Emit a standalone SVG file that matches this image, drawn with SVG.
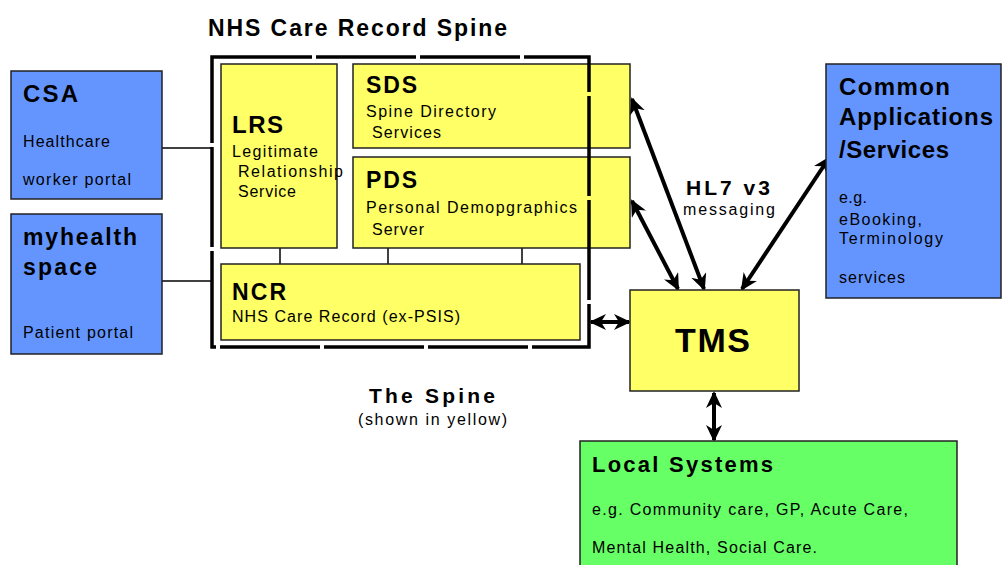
<svg xmlns="http://www.w3.org/2000/svg" width="1003" height="565" viewBox="0 0 1003 565">
<style>
.box{stroke:#222;stroke-width:1.5}
.blue{fill:#6495FF}
.yel{fill:#FFFF66}
.grn{fill:#66FF66}
text{font-family:"Liberation Sans",Arial,sans-serif;fill:#000}
.h{font-weight:bold;font-size:23px}
.s{font-size:16px}
.line{stroke:#000;stroke-width:1.5;fill:none}
.arr{stroke:#000;stroke-width:4;fill:none;marker-start:url(#ah);marker-end:url(#ah)}
</style>
<defs>
<marker id="ah" markerUnits="userSpaceOnUse" markerWidth="18" markerHeight="16" viewBox="0 0 18 16" refX="15" refY="8" orient="auto-start-reverse">
<path d="M0,0 L17,8 L0,16 L5,8 z" fill="#000"/>
</marker>
</defs>
<rect width="1003" height="565" fill="#fff"/>

<text class="h" x="208" y="36" textLength="299">NHS Care Record Spine</text>

<g id="connectors">
<line class="line" x1="162" y1="148" x2="212" y2="148"/>
<line class="line" x1="162" y1="281" x2="212" y2="281"/>
<line class="line" x1="280" y1="248" x2="280" y2="264"/>
<line class="line" x1="388" y1="248" x2="388" y2="264"/>
<line class="line" x1="522" y1="248" x2="522" y2="264"/>
<line class="arr" x1="632" y1="99" x2="704" y2="289"/>
<line class="arr" x1="632" y1="201" x2="678" y2="289"/>
<line class="arr" x1="829" y1="158" x2="742" y2="289"/>
<line class="arr" x1="591" y1="322" x2="629" y2="322"/>
<line class="arr" x1="714" y1="393" x2="714" y2="440"/>
</g>

<g id="csa">
<rect class="box blue" x="11" y="71" width="151" height="128"/>
<text class="h" x="23" y="102" textLength="55" style="font-size:24px">CSA</text>
<text class="s" x="23" y="147" textLength="87">Healthcare</text>
<text class="s" x="23" y="185" textLength="108">worker portal</text>
</g>

<g id="myhealth">
<rect class="box blue" x="11" y="214" width="151" height="140"/>
<text class="h" x="23" y="245" textLength="114">myhealth</text>
<text class="h" x="23" y="275" textLength="74">space</text>
<text class="s" x="23" y="338" textLength="110">Patient portal</text>
</g>

<g id="lrs">
<rect class="box yel" x="221" y="64" width="116" height="184"/>
<text class="h" x="232" y="133" textLength="51" style="font-size:24px">LRS</text>
<text class="s" x="232" y="157" textLength="86">Legitimate</text>
<text class="s" x="238" y="177" textLength="105">Relationship</text>
<text class="s" x="238" y="197" textLength="58">Service</text>
</g>

<g id="sds">
<rect class="box yel" x="353" y="64" width="277" height="84"/>
<text class="h" x="366" y="93" textLength="51">SDS</text>
<text class="s" x="366" y="117" textLength="130">Spine Directory</text>
<text class="s" x="372" y="138" textLength="69">Services</text>
</g>

<g id="pds">
<rect class="box yel" x="353" y="157" width="277" height="91"/>
<text class="h" x="366" y="188" textLength="51">PDS</text>
<text class="s" x="366" y="213" textLength="211">Personal Demopgraphics</text>
<text class="s" x="372" y="235" textLength="52">Server</text>
</g>

<g id="ncr">
<rect class="box yel" x="221" y="264" width="359" height="76"/>
<text class="h" x="232" y="300" textLength="54">NCR</text>
<text class="s" x="232" y="322" textLength="228">NHS Care Record (ex-PSIS)</text>
</g>

<g id="spine">
<rect x="212" y="57" width="377" height="290" fill="none" stroke="#000" stroke-width="3.5" stroke-dasharray="100 4"/>
<text class="h" x="369" y="403" textLength="126" style="font-size:21px">The Spine</text>
<text class="s" x="358" y="425" textLength="149">(shown in yellow)</text>
</g>

<g id="hl7">
<text class="h" x="686" y="195" textLength="84" style="font-size:21px">HL7 v3</text>
<text class="s" x="683" y="215" textLength="92">messaging</text>
</g>

<g id="common">
<rect class="box blue" x="826" y="64" width="175" height="234"/>
<text class="h" x="839" y="95" textLength="111" style="font-size:24px">Common</text>
<text class="h" x="839" y="125" textLength="154" style="font-size:24px">Applications</text>
<text class="h" x="839" y="158" textLength="110" style="font-size:24px">/Services</text>
<text class="s" x="839" y="203" textLength="28">e.g.</text>
<text class="s" x="839" y="225" textLength="83">eBooking,</text>
<text class="s" x="839" y="244" textLength="104">Terminology</text>
<text class="s" x="839" y="283" textLength="66">services</text>
</g>

<g id="tms">
<rect class="box yel" x="630" y="290" width="169" height="101"/>
<text class="h" x="675" y="352" textLength="75" style="font-size:34px">TMS</text>
</g>

<g id="local">
<rect class="box grn" x="580" y="441" width="377" height="130"/>
<text class="h" x="592" y="472" textLength="181" style="font-size:22px">Local Systems</text>
<text class="s" x="592" y="515" textLength="316">e.g. Community care, GP, Acute Care,</text>
<text class="s" x="592" y="553" textLength="225">Mental Health, Social Care.</text>
</g>
</svg>
